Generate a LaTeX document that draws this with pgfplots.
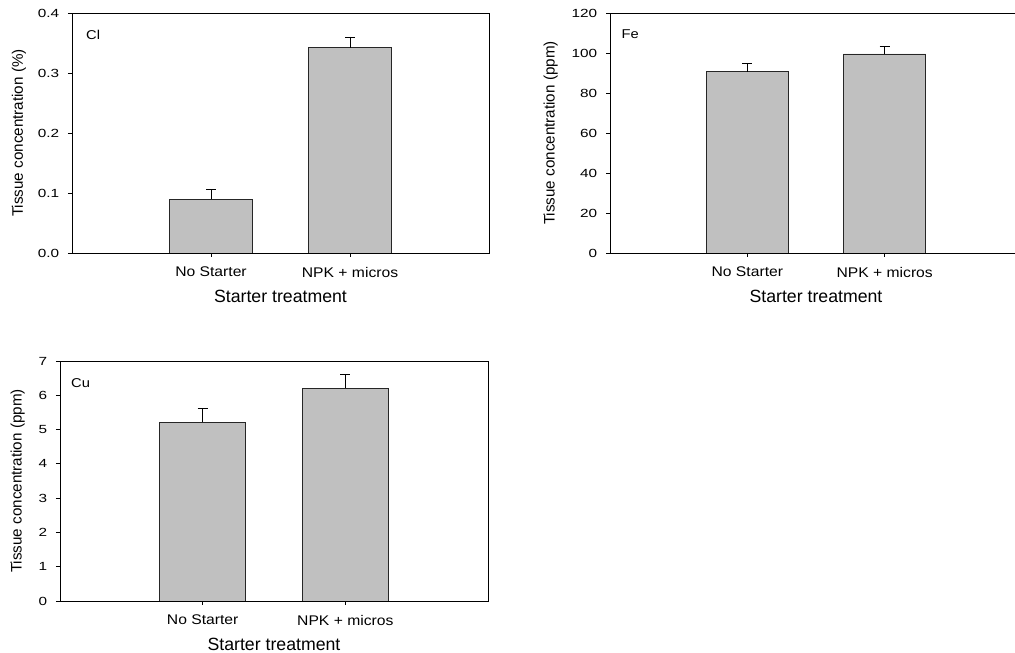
\documentclass[border=0pt]{standalone}
\usepackage{fontspec}
\setmainfont{Liberation Sans}
\newfontfamily\ytf[FakeStretch=1.3]{Liberation Sans}
\newfontfamily\xtf[FakeStretch=1.12]{Liberation Sans}
\newfontfamily\plf[FakeStretch=1.15]{Liberation Sans}
\usepackage{pgfplots}
\pgfplotsset{compat=1.18}
\definecolor{barfill}{RGB}{192,192,192}
\pgfplotsset{
  panel/.style={
    scale only axis, height=240pt, anchor=south west,
    xmin=-1, xmax=2, ymin=0, enlargelimits=false,
    xtick={0,1}, xticklabels={No Starter, NPK + micros},
    tick align=outside, xtick pos=left, ytick pos=left,
    major tick length=4pt, minor tick num=0,
    tick style={black, line width=0.8pt},
    axis line style={black, line width=0.8pt},
    ybar, bar width=0.6,
    /pgf/number format/assume math mode=true,
    yticklabel style={font=\ytf\fontsize{11.8}{12}\selectfont, inner sep=0pt, anchor=east, xshift=-8.7pt},
    xticklabel style={font=\xtf\fontsize{14}{15}\selectfont, inner sep=0pt, anchor=north, yshift=-10pt},
    xlabel={Starter treatment},
    xlabel style={font=\fontsize{17.7}{19}\selectfont, inner sep=0pt, anchor=north, at={(axis description cs:0.5,-0.153)}},
    ylabel style={font=\fontsize{15.2}{16}\selectfont, inner sep=0pt, rotate=0, anchor=south},
  },
  bars/.style={fill=barfill, draw=black!85, line width=0.8pt,
    error bars/.cd, y dir=plus, y explicit, error mark=|,
    error bar style={black, line width=0.8pt},
    error mark options={black, line width=0.8pt, mark size=5pt}},
}
\begin{document}
\begin{tikzpicture}[x=1pt,y=1pt]
\useasboundingbox (0,0) rectangle (1015,653);
% Cl
\begin{axis}[panel, at={(72pt,400pt)}, width=417pt,
  ymax=0.4, ytick={0,0.1,0.2,0.3,0.4},
  yticklabel style={/pgf/number format/.cd, fixed, fixed zerofill, precision=1},
  ylabel={Tissue concentration (\%)},
  ylabel style={at={(axis description cs:-0.110,0.5)}}]
\addplot[bars] coordinates {(0,0.0893) +- (0,0.0172) (1,0.342) +- (0,0.018)};
\node[anchor=base west, inner sep=0pt, font=\plf\fontsize{12.8}{13}\selectfont] at (rel axis cs:0.0336,0.890) {Cl};
\end{axis}
% Fe
\begin{axis}[panel, at={(610pt,400pt)}, width=412pt,
  ymax=120, ytick={0,20,40,60,80,100,120},
  ylabel={Tissue concentration (ppm)},
  ylabel style={at={(axis description cs:-0.126,0.5)}}]
\addplot[bars] coordinates {(0,90.7) +- (0,4.0) (1,99.5) +- (0,3.9)};
\node[anchor=base west, inner sep=0pt, font=\plf\fontsize{12.8}{13}\selectfont] at (rel axis cs:0.028,0.892) {Fe};
\end{axis}
% Cu
\begin{axis}[panel, at={(60pt,52pt)}, width=428pt,
  ymax=7, ytick={0,1,2,3,4,5,6,7},
  ylabel={Tissue concentration (ppm)},
  ylabel style={at={(axis description cs:-0.082,0.5)}}]
\addplot[bars] coordinates {(0,5.22) +- (0,0.39) (1,6.21) +- (0,0.41)};
\node[anchor=base west, inner sep=0pt, font=\plf\fontsize{12.8}{13}\selectfont] at (rel axis cs:0.0257,0.890) {Cu};
\end{axis}
\end{tikzpicture}
\end{document}
